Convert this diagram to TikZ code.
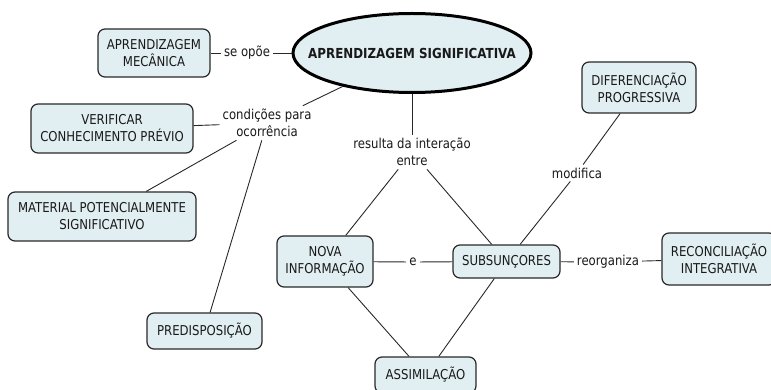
\documentclass[tikz,border=0pt]{standalone}
\usepackage{fontspec}
\setmainfont{DejaVu Sans}[FakeStretch=0.86]
\usetikzlibrary{shapes.geometric}
\definecolor{boxfill}{RGB}{225,238,242}
\definecolor{txt}{RGB}{25,25,25}
\definecolor{lin}{RGB}{40,40,40}
\tikzset{
  concept/.style={draw=lin, line width=1.2pt, fill=boxfill, rounded corners=7pt, align=center, text=txt, inner sep=1pt, font=\fontsize{13.6}{17}\selectfont},
  mainconcept/.style={ellipse, draw=black, line width=3pt, fill=boxfill, text=txt, inner sep=0pt, font=\fontsize{13.8}{16}\selectfont\bfseries},
  linklabel/.style={align=center, text=txt, inner sep=3pt, font=\fontsize{13.6}{17.5}\selectfont},
  conn/.style={draw=lin, line width=0.9pt}
}
\begin{document}
\begin{tikzpicture}[x=1pt,y=-1pt]
\useasboundingbox (0,0) rectangle (771,390);
\clip (0,0) rectangle (771,390);
% concepts
\node[mainconcept, minimum width=238pt, minimum height=79pt] (sig) at (412,53) {\makebox[0pt]{APRENDIZAGEM SIGNIFICATIVA}};
\node[concept, minimum width=112pt, minimum height=48pt] (mec) at (154,53) {APRENDIZAGEM\\MECÂNICA};
\node[concept, minimum width=162pt, minimum height=49pt] (ver) at (112,128.5) {VERIFICAR\\CONHECIMENTO PRÉVIO};
\node[concept, minimum width=188pt, minimum height=49pt] (mat) at (102,216.5) {MATERIAL POTENCIALMENTE\\SIGNIFICATIVO};
\node[concept, minimum width=115pt, minimum height=36pt] (pre) at (204.5,331) {PREDISPOSIÇÃO};
\node[concept, minimum width=96pt, minimum height=51pt] (nova) at (325,261.5) {NOVA\\INFORMAÇÃO};
\node[concept, minimum width=107pt, minimum height=33pt] (sub) at (506.5,261.5) {SUBSUNÇORES};
\node[concept, minimum width=114pt, minimum height=52pt] (rec) at (719,259) {RECONCILIAÇÃO\\INTEGRATIVA};
\node[concept, minimum width=114pt, minimum height=51pt] (dif) at (639,87.5) {DIFERENCIAÇÃO\\PROGRESSIVA};
\node[concept, minimum width=101pt, minimum height=36pt] (ass) at (425.5,375) {ASSIMILAÇÃO};
% link labels
\node[linklabel] (seopoe) at (247,53) {se opõe};
\node[linklabel] (cond) at (267,123) {condições para\\ocorrência};
\node[linklabel] (res) at (412,152) {resulta da interação\\entre};
\node[linklabel] (e) at (413,262) {e};
\node[linklabel] (reorg) at (608,262) {reorganiza};
\node[linklabel] (modif) at (577,173) {modifica};
% connectors
\draw[conn] (mec) -- (seopoe);
\draw[conn] (seopoe) -- (sig);
\draw[conn] (sig) -- (cond);
\draw[conn] (cond) -- (ver);
\draw[conn] (cond) -- (mat);
\draw[conn] (cond) -- (pre);
\draw[conn] (sig) -- (res);
\draw[conn] (res) -- (nova);
\draw[conn] (res) -- (sub);
\draw[conn] (nova) -- (e);
\draw[conn] (e) -- (sub);
\draw[conn] (sub) -- (reorg);
\draw[conn] (reorg) -- (rec);
\draw[conn] (sub) -- (modif);
\draw[conn] (modif) -- (dif);
\draw[conn] (nova) -- (ass);
\draw[conn] (sub) -- (ass);
\end{tikzpicture}
\end{document}
